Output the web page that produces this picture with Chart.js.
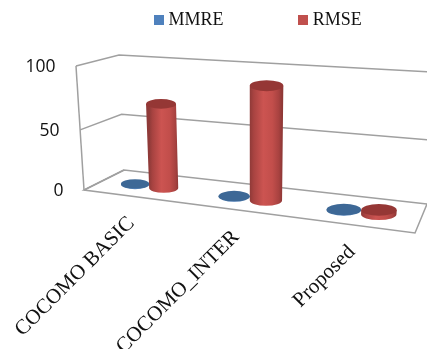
<!DOCTYPE html>
<html>
<head>
<meta charset="utf-8">
<style>html,body{margin:0;padding:0;background:#fff}#w{position:relative;width:427px;height:349px;overflow:hidden}</style>
<script src="https://cdn.jsdelivr.net/npm/chart.js@4"></script>
</head>
<body>
<div id="w"><canvas id="c" width="427" height="349"></canvas></div>
<script>
const categories = ['COCOMO BASIC', 'COCOMO_INTER', 'Proposed'];
const mmre = [0.6, 0.5, 0.4];
const rmse = [70, 91, 3.5];
const yTicks = [0, 50, 100];

// Corners of the 3D box on the canvas: [front|back][Left|Right][Bottom|Top]
const box = {
  fLB:[84,190], fRB:[415,233], bLB:[124,170], bRB:[427,204],
  fLT:[76,66],  fRT:[424,98],  bLT:[119,55],  bRT:[433,72]
};
const lerp = (a,b,t)=>[a[0]+(b[0]-a[0])*t, a[1]+(b[1]-a[1])*t];
function project(u,v,w){
  const uu = u - 0.15*u*(1-u);          // horizontal foreshortening
  const ww = w - 0.06*w*(1-w);          // vertical foreshortening
  const fb = lerp(box.fLB,box.fRB,uu), bb = lerp(box.bLB,box.bRB,uu);
  const ft = lerp(box.fLT,box.fRT,uu), bt = lerp(box.bLT,box.bRT,uu);
  return lerp(lerp(fb,bb,v), lerp(ft,bt,v), ww);
}
function line(ctx,pts){
  ctx.beginPath();
  pts.forEach((p,i)=> i?ctx.lineTo(p[0],p[1]):ctx.moveTo(p[0],p[1]));
  ctx.stroke();
}
function cylinder(ctx,el,area,yScale,style){
  const u0=(el.x-el.width/2-area.left)/area.width, u1=(el.x+el.width/2-area.left)/area.width;
  const wOf=px=>(yScale.bottom-px)/(yScale.bottom-yScale.top);
  const wb=wOf(el.base), wt=wOf(el.y);
  const lb=project(u0,.47,wb), rb=project(u1,.47,wb), lt=project(u0,.47,wt), rt=project(u1,.47,wt);
  const cb=lerp(lb,rb,.5), ct=lerp(lt,rt,.5);
  const rxb=(rb[0]-lb[0])/2, rxt=(rt[0]-lt[0])/2, k=.33;
  const g=ctx.createLinearGradient(cb[0]-rxb,0,cb[0]+rxb,0);
  style.side.forEach(s=>g.addColorStop(s[0],s[1]));
  ctx.fillStyle=g;
  ctx.beginPath();
  ctx.moveTo(ct[0]-rxt,ct[1]);
  ctx.lineTo(cb[0]-rxb,cb[1]);
  ctx.ellipse(cb[0],cb[1],rxb,rxb*k,0,Math.PI,0,true);
  ctx.lineTo(ct[0]+rxt,ct[1]);
  ctx.closePath();
  ctx.fill();
  ctx.fillStyle=style.top;
  ctx.beginPath();
  ctx.ellipse(ct[0],ct[1],rxt,rxt*k,0,0,Math.PI*2);
  ctx.fill();
}
const styles=[
  {top:'#3d6896',side:[[0,'#3d6896'],[.5,'#5b8ac2'],[1,'#3d6896']]},
  {top:'#953735',side:[[0,'#8f3a38'],[.12,'#a84341'],[.42,'#cc5451'],[.7,'#c24e4b'],[.9,'#a84240'],[1,'#8f3836']]}
];
const perspective={
  id:'perspective',
  afterLayout(chart){
    // The legend keeps its own drawing; only its box is placed above the frame.
    const lg=chart.legend, pad=lg.options.labels.padding;
    lg.left=79.2; lg.right=600; lg.top=20-9-pad;
  },
  beforeDatasetsDraw(chart){
    const ctx=chart.ctx, y=chart.scales.y, x=chart.scales.x;
    const wOf=t=>(y.bottom-y.getPixelForValue(t))/(y.bottom-y.top);
    ctx.save();
    ctx.strokeStyle='#a0a0a0'; ctx.lineWidth=1.5; ctx.lineJoin='miter';
    y.ticks.forEach(t=>{
      const w=wOf(t.value);
      line(ctx,[project(0,0,w),project(0,1,w),project(1,1,w)]);
    });
    line(ctx,[project(0,1,0),project(0,0,0),project(1,0,0),project(1,1,0)]);
    line(ctx,[project(0,0,0),project(0,0,1)]);
    // value axis labels, following the slanted front edge
    ctx.fillStyle='#111'; ctx.font='17.5px "Open Sans"'; ctx.textAlign='right'; ctx.textBaseline='middle';
    y.ticks.forEach(t=>{
      const p=project(0,0,wOf(t.value));
      ctx.fillText(t.label,p[0]-20.5,p[1]+1);
    });
    // category labels
    ctx.font='21px "Liberation Serif"';
    x.getLabels().forEach((lab,i)=>{
      const u=(x.getPixelForValue(i)-chart.chartArea.left)/chart.chartArea.width;
      const p=project(u,0,0);
      ctx.save();
      ctx.translate(p[0]-1,p[1]+24);
      ctx.rotate(-Math.PI/4);
      ctx.fillText(lab,0,0);
      ctx.restore();
    });
    ctx.restore();
  },
  beforeDatasetDraw(chart,args){
    const ctx=chart.ctx, area=chart.chartArea;
    ctx.save();
    args.meta.data.forEach(el=>cylinder(ctx,el,area,chart.scales.y,styles[args.index]));
    ctx.restore();
    return false;
  }
};
function swatch(color){
  const c=document.createElement('canvas'); c.width=10; c.height=10;
  const g=c.getContext('2d'); g.fillStyle=color; g.fillRect(0,0,10,10);
  return c;
}
new Chart(document.getElementById('c'),{
  type:'bar',
  data:{labels:categories,datasets:[
    {label:'MMRE',data:mmre,backgroundColor:'#4F81BD',categoryPercentage:.6,barPercentage:1,order:1},
    {label:'RMSE',data:rmse,backgroundColor:'#C0504D',categoryPercentage:.6,barPercentage:1,order:2}
  ]},
  plugins:[perspective],
  options:{
    responsive:false,animation:false,
    layout:{padding:0},
    scales:{
      x:{display:false},
      y:{display:false,min:0,max:100,afterBuildTicks(s){s.ticks=yTicks.map(v=>({value:v,label:String(v)}));}}
    },
    plugins:{
      tooltip:{enabled:false},
      legend:{
        position:'top',align:'start',
        labels:{
          font:{family:'"Liberation Serif"',size:18},color:'#111',
          boxWidth:1,boxHeight:10,padding:79.3,usePointStyle:true,
          generateLabels(chart){
            return Chart.defaults.plugins.legend.labels.generateLabels(chart).map(l=>{
              l.pointStyle=swatch(l.fillStyle); return l;
            });
          }
        }
      }
    }
  }
});
</script>
</body>
</html>
